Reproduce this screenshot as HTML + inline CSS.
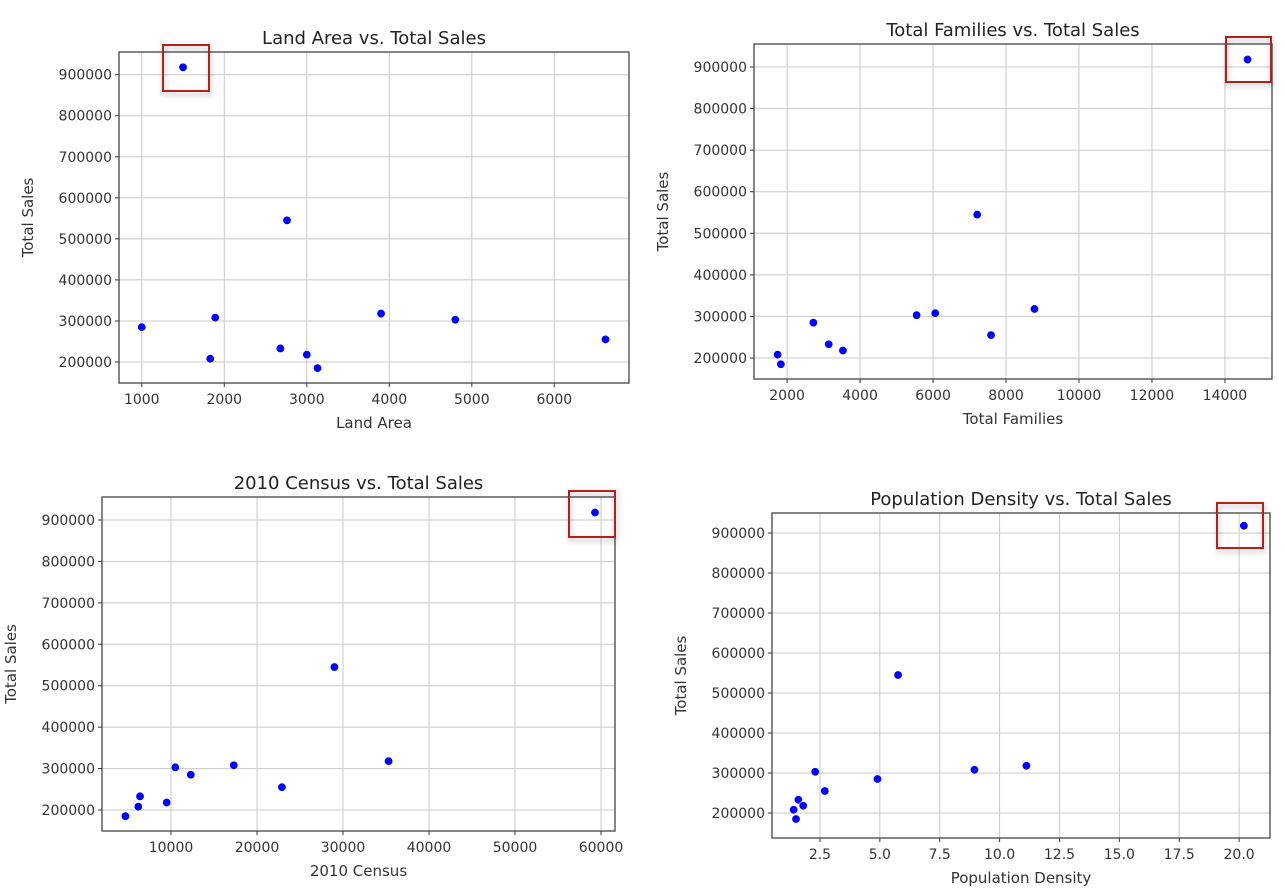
<!DOCTYPE html>
<html><head><meta charset="utf-8">
<style>
html,body{margin:0;padding:0;background:#fff;}
svg{display:block;font-family:"DejaVu Sans","Liberation Sans",sans-serif;}
</style></head>
<body>
<svg id="chart" width="1284" height="896" viewBox="0 0 1284 896" xmlns="http://www.w3.org/2000/svg">
<defs><filter id="sh" x="-30%" y="-30%" width="160%" height="160%"><feDropShadow dx="1" dy="3" stdDeviation="3" flood-color="#000" flood-opacity="0.3"/></filter></defs>
</svg>
<script>
const totalSales = [918000, 545000, 318000, 308000, 303000, 285000, 255000, 233000, 218000, 208000, 185000];
const landArea = [1500, 2760, 3900, 1890, 4800, 1000, 6620, 2680, 3000, 1830, 3130];
const totalFamilies = [14620, 7210, 8780, 6060, 5550, 2720, 7590, 3140, 3530, 1740, 1830];
const census2010 = [59300, 29000, 35300, 17300, 10500, 12300, 22900, 6400, 9500, 6200, 4700];
const popDensity = [20.2, 5.76, 11.12, 8.95, 2.3, 4.9, 2.7, 1.6, 1.8, 1.4, 1.5];
const yTicks = [200000, 300000, 400000, 500000, 600000, 700000, 800000, 900000];
const landTicks = [1000, 2000, 3000, 4000, 5000, 6000];
const familyTicks = [2000, 4000, 6000, 8000, 10000, 12000, 14000];
const censusTicks = [10000, 20000, 30000, 40000, 50000, 60000];
const densityTicks = [2.5, 5.0, 7.5, 10.0, 12.5, 15.0, 17.5, 20.0];

const panels = [
  {name:'land-area', title:'Land Area vs. Total Sales', xlabel:'Land Area', xs:landArea, ticks:landTicks, dec:0,
   box:[119,52,629,383], xlim:[724,6905], ylim:[148800,955300], hl:[163,45,46,46]},
  {name:'total-families', title:'Total Families vs. Total Sales', xlabel:'Total Families', xs:totalFamilies, ticks:familyTicks, dec:0,
   box:[754,44,1272,379], xlim:[1093,15290], ylim:[149500,955300], hl:[1226,37,45,45]},
  {name:'census-2010', title:'2010 Census vs. Total Sales', xlabel:'2010 Census', xs:census2010, ticks:censusTicks, dec:0,
   box:[102,497,615,831], xlim:[1977,61628], ylim:[149300,955500], hl:[569,491,46,46]},
  {name:'population-density', title:'Population Density vs. Total Sales', xlabel:'Population Density', xs:popDensity, ticks:densityTicks, dec:1,
   box:[772,513,1270,838], xlim:[0.497,21.29], ylim:[137500,950000], hl:[1217,503,46,45]}
];

const svg = document.getElementById('chart');
const NS = 'http://www.w3.org/2000/svg';
function mk(tag, attrs, parent){
  const e = document.createElementNS(NS, tag);
  for (const k in attrs) e.setAttribute(k, attrs[k]);
  parent.appendChild(e);
  return e;
}
panels.forEach(p => {
  const [x0,y0,x1,y1] = p.box;
  const sx = v => x0 + (v - p.xlim[0]) / (p.xlim[1] - p.xlim[0]) * (x1 - x0);
  const sy = v => y1 - (v - p.ylim[0]) / (p.ylim[1] - p.ylim[0]) * (y1 - y0);
  const g = mk('g', {}, svg);
  
  
  p.ticks.forEach(t => {
    const x = sx(t);
    const l = mk('line', {x1:x, x2:x, y1:y0, y2:y1, stroke:'#c8c8c8', 'stroke-width':1}, g);
    
    
    const tk = mk('line', {x1:x, x2:x, y1:y1, y2:y1+4, stroke:'#333', 'stroke-width':1}, g);
    
    
    const tx = mk('text', {x:x, y:y1+21, 'text-anchor':'middle', 'font-size':14, fill:'#333'}, g);
    tx.textContent = t.toFixed(p.dec);
    
    
  });
  yTicks.forEach(t => {
    const y = sy(t);
    const l = mk('line', {x1:x0, x2:x1, y1:y, y2:y, stroke:'#c8c8c8', 'stroke-width':1}, g);
    
    
    const tk = mk('line', {x1:x0-4, x2:x0, y1:y, y2:y, stroke:'#333', 'stroke-width':1}, g);
    
    
    const tx = mk('text', {x:x0-7, y:y+5, 'text-anchor':'end', 'font-size':14, fill:'#333'}, g);
    tx.textContent = String(t);
    
    
  });
  const frame = mk('rect', {x:x0, y:y0, width:x1-x0, height:y1-y0, fill:'none', stroke:'#444', 'stroke-width':1.3}, g);
  
  
  p.xs.forEach((v, i) => {
    const c = mk('circle', {cx:sx(v), cy:sy(totalSales[i]), r:4.2, fill:'#0000ff', stroke:'#fff', 'stroke-width':0.6}, g);
    
    
  });
  const ti = mk('text', {x:(x0+x1)/2, y:y0-8, 'text-anchor':'middle', 'font-size':18, fill:'#222'}, g);
  ti.textContent = p.title;
  
  
  const xl = mk('text', {x:(x0+x1)/2, y:y1+45, 'text-anchor':'middle', 'font-size':15, fill:'#333'}, g);
  xl.textContent = p.xlabel;
  
  
  const yx = x0 - 86, yy = (y0+y1)/2;
  const yl = mk('text', {x:yx, y:yy, 'text-anchor':'middle', 'font-size':15, fill:'#333', transform:'rotate(-90 '+yx+' '+yy+')'}, g);
  yl.textContent = 'Total Sales';
  
  
  const [hx,hy,hw,hh] = p.hl;
  const hb = mk('rect', {x:hx, y:hy, width:hw, height:hh, fill:'none', stroke:'#b0201a', 'stroke-width':2, filter:'url(#sh)'}, g);
  
  
});
</script>
</body></html>
